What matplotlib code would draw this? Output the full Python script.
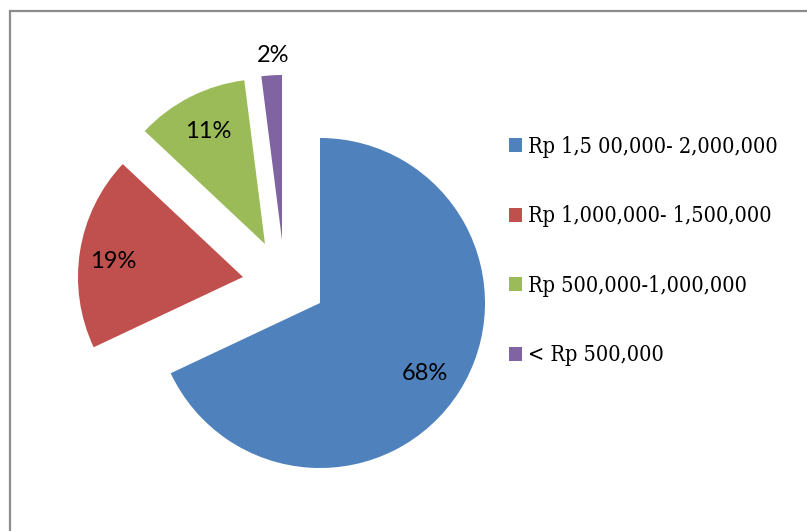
"""Pie chart of income groups (Rp) with exploded smaller slices."""

import matplotlib
matplotlib.use("Agg")
import matplotlib.pyplot as plt
from matplotlib.patches import Rectangle

# data
categories = [
    "Rp 1,5 00,000- 2,000,000",
    "Rp 1,000,000- 1,500,000",
    "Rp 500,000-1,000,000",
    "< Rp 500,000",
]
shares = [68, 19, 11, 2]

COLORS = ["#4F81BD", "#C0504D", "#9BBB59", "#8064A2"]

W, H = 807, 531          # figure size in pixels, axes uses pixel units (y up)
CENTER = (320, 228)
RADIUS = 165
# where each slice was dragged to (pixel shift from the pie centre)
SHIFTS = [(0, 0), (-77, 26), (-55, 59), (-38, 63)]
# where each percentage label sits
LABEL_POS = [(425, 158), (113, 270), (208, 400), (273, 476)]


def main():
    fig = plt.figure(figsize=(W / 100, H / 100), dpi=100)
    ax = fig.add_axes([0, 0, 1, 1])

    wedges, _, pct = ax.pie(
        shares,
        colors=COLORS,
        startangle=90,
        counterclock=False,
        center=CENTER,
        radius=RADIUS,
        autopct="%.0f%%",
        textprops=dict(fontsize=17, family="Lato", color="black"),
        wedgeprops=dict(linewidth=0),
    )
    for w, (dx, dy) in zip(wedges, SHIFTS):
        w.set_center((CENTER[0] + dx, CENTER[1] + dy))
    for t, pos in zip(pct, LABEL_POS):
        t.set_position(pos)
        t.set_ha("center")
        t.set_va("center")

    ax.set_xlim(0, W)
    ax.set_ylim(0, H)
    ax.set_aspect("equal")
    ax.axis("off")

    # chart border (runs off the right and bottom edge)
    fig.add_artist(Rectangle((10 / W, -0.1), 1.2, (H - 11) / H + 0.1, transform=fig.transFigure,
                             fill=False, edgecolor="#8C8C8C", linewidth=1.6))

    ax.legend(wedges, categories, loc="upper left", bbox_to_anchor=(509 / W, 1 - 136 / H),
              frameon=False, handlelength=0.6, handleheight=0.6, handletextpad=0.3,
              labelspacing=2.19, borderaxespad=0, borderpad=0,
              prop=dict(family="DejaVu Serif", stretch="condensed", size=15.6))

    fig.savefig("out.png", dpi=100)
    plt.close(fig)


if __name__ == "__main__":
    main()
